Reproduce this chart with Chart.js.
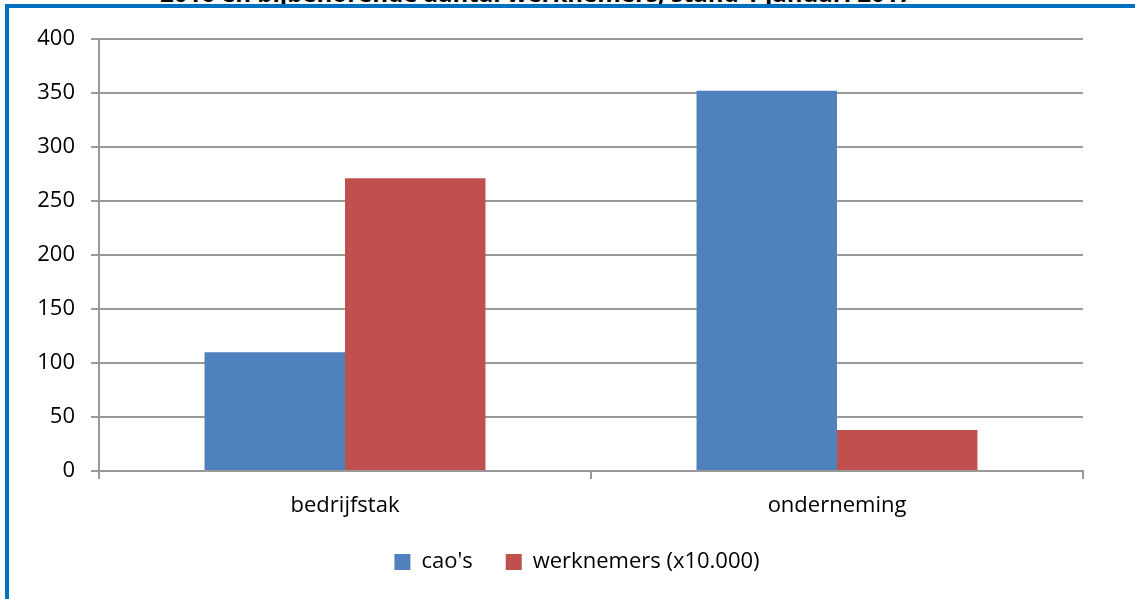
<!DOCTYPE html>
<html>
<head>
<meta charset="utf-8">
<script src="https://cdn.jsdelivr.net/npm/chart.js@4.4.0/dist/chart.umd.min.js"></script>
<style>
  html, body { margin: 0; padding: 0; background: #fff; overflow: hidden; }
  #wrap { position: relative; width: 1135px; height: 599px; }
  #frame { position: absolute; left: 5px; top: 4px; right: 0; bottom: -10px;
           border-left: 4px solid #0070C0; border-top: 4px solid #0070C0; }
  #title { position: absolute; left: 160px; top: -24px; font: bold 24px "Open Sans", sans-serif;
           color: #000; white-space: nowrap; }
  canvas { position: absolute; left: 0; top: 0; }
</style>
</head>
<body>
<div id="wrap">
  <div id="title">2016 en bijbehorende aantal werknemers, stand 1 januari 2017</div>
  <div id="frame"></div>
  <canvas id="barChart" width="1135" height="599"></canvas>
</div>
<script>
const categories = ['bedrijfstak', 'onderneming'];
const caos = [110, 352];
const werknemers = [271, 38];
const seriesNames = ["cao's", 'werknemers (x10.000)'];
const yTicks = [0, 50, 100, 150, 200, 250, 300, 350, 400];

const gridColor = '#999999';
const font = { family: '"Open Sans", sans-serif', size: 22 };

// the legend in the original sits a bit right of the canvas centre
const legendShift = {
  id: 'legendShift',
  afterLayout(chart) {
    const lg = chart.legend;
    const dx = 577 - (lg.left + lg.right) / 2;
    lg.left += dx;
    lg.right += dx;
  }
};

const ctx = document.getElementById('barChart').getContext('2d');
new Chart(ctx, {
  type: 'bar',
  data: {
    labels: categories,
    datasets: [
      { label: seriesNames[0], data: caos, backgroundColor: '#4F81BD', borderWidth: 0 },
      { label: seriesNames[1], data: werknemers, backgroundColor: '#C0504D', borderWidth: 0 }
    ]
  },
  options: {
    responsive: false,
    animation: false,
    layout: { padding: { left: 0, right: 52, top: 39, bottom: 16 } },
    datasets: { bar: { barPercentage: 1, categoryPercentage: 0.571 } },
    plugins: {
      tooltip: { enabled: false },
      legend: {
        position: 'bottom',
        labels: { color: '#000', font: font, boxWidth: 16, boxHeight: 16, padding: 33 }
      }
    },
    scales: {
      x: {
        grid: { offset: true, drawOnChartArea: false, color: gridColor, lineWidth: 2, tickLength: 8 },
        border: { color: gridColor, width: 2 },
        ticks: { color: '#000', font: font, padding: 14 },
        afterFit: (s) => { s.height = 47; }
      },
      y: {
        min: 0, max: 400,
        afterBuildTicks: (s) => { s.ticks = yTicks.map(v => ({ value: v })); },
        grid: { color: gridColor, lineWidth: 2, tickLength: 8 },
        border: { color: gridColor, width: 2 },
        ticks: { color: '#000', font: font, padding: 16 },
        afterFit: (s) => { s.width = 99; }
      }
    }
  },
  plugins: [legendShift]
});
</script>
</body>
</html>
